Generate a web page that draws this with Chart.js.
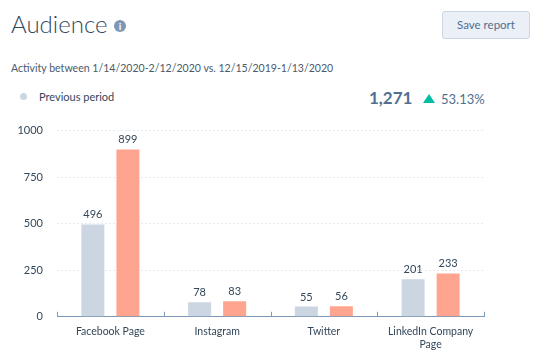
<!DOCTYPE html>
<html>
<head>
<meta charset="utf-8">
<script src="https://cdn.jsdelivr.net/npm/chart.js@4"></script>
<style>
html, body { margin: 0; padding: 0; background: #fff; }
body { width: 552px; height: 360px; position: relative; overflow: hidden; font-family: Lato, "Open Sans", sans-serif; color: #33475b; }
.abs { position: absolute; white-space: nowrap; }
#titulo { left: 11px; top: 7px; font-size: 24px; font-weight: 300; letter-spacing: 0; line-height: 34px; color: #33475b; }
#info { left: 114px; top: 20px; width: 12px; height: 12px; border-radius: 50%; background: #7c98b6; color: #fff; font-size: 10px; font-weight: 700; line-height: 12px; text-align: center; }
#guardar { left: 442px; top: 11px; width: 86px; height: 26px; border: 1px solid #cbd6e2; border-radius: 3px; background: #eaf0f6; color: #506e91; font-size: 11.5px; line-height: 26px; text-align: center; }
#actividad { left: 11px; top: 61px; font-size: 10.55px; line-height: 14px; color: #4a5a6a; }
#punto { left: 20px; top: 93px; width: 7px; height: 7px; border-radius: 50%; background: #cbd6e2; }
#previo { left: 39px; top: 90px; font-size: 11px; line-height: 14px; color: #33475b; }
#total { left: 369px; top: 88px; font-size: 17px; font-weight: 700; line-height: 20px; color: #516f90; }
#flecha { left: 423px; top: 94px; width: 0; height: 0; border-left: 6px solid transparent; border-right: 6px solid transparent; border-bottom: 9px solid #00bda5; }
#cambio { left: 441px; top: 90px; font-size: 13px; line-height: 18px; color: #516f90; }
#grafica { position: absolute; left: 0; top: 110px; }
</style>
</head>
<body>
<div class="abs" id="titulo">Audience</div>
<div class="abs" id="info">i</div>
<div class="abs" id="guardar">Save report</div>
<div class="abs" id="actividad">Activity between 1/14/2020-2/12/2020 vs. 12/15/2019-1/13/2020</div>
<div class="abs" id="punto"></div>
<div class="abs" id="previo">Previous period</div>
<div class="abs" id="total">1,271</div>
<div class="abs" id="flecha"></div>
<div class="abs" id="cambio">53.13%</div>
<canvas id="grafica" width="552" height="246"></canvas>
<script>
var categorias = [["Facebook Page"], ["Instagram"], ["Twitter"], ["LinkedIn Company", "Page"]];
var periodoAnterior = [496, 78, 55, 201];
var periodoActual = [899, 83, 56, 233];
var marcasY = [0, 250, 500, 750, 1000];

// pone el valor encima de cada barra
var etiquetas = {
    id: 'etiquetas',
    afterDatasetsDraw: function(chart){
        var ctx = chart.ctx;
        ctx.save();
        ctx.font = '11px Lato';
        ctx.fillStyle = '#33475b';
        ctx.textAlign = 'center';
        ctx.textBaseline = 'bottom';
        chart.data.datasets.forEach(function(ds, d){
            chart.getDatasetMeta(d).data.forEach(function(barra, i){
                ctx.fillText(ds.data[i], barra.x, barra.y - 4);
            });
        });
        ctx.restore();
    }
};

// rayitas que separan las categorias sobre el eje
var separadores = {
    id: 'separadores',
    afterDatasetsDraw: function(chart){
        var ctx = chart.ctx;
        var area = chart.chartArea;
        var ancho = area.width / categorias.length;
        ctx.save();
        ctx.strokeStyle = '#7c98b6';
        ctx.lineWidth = 1;
        for (var i = 0; i <= categorias.length; i++){
            var x = Math.round(area.left + ancho * i) + 0.5;
            ctx.beginPath();
            ctx.moveTo(x, area.bottom);
            ctx.lineTo(x, area.bottom - 5);
            ctx.stroke();
        }
        ctx.restore();
    }
};

var grafica = new Chart(document.getElementById('grafica').getContext('2d'), {
    type: 'bar',
    data: {
        labels: categorias,
        datasets: [
            { label: 'Previous period', data: periodoAnterior, backgroundColor: '#cbd6e2' },
            { label: 'Current period', data: periodoActual, backgroundColor: '#ffa58f' }
        ]
    },
    options: {
        responsive: false,
        animation: false,
        layout: { padding: { left: 0, right: 68, top: 10, bottom: 4 } },
        datasets: { bar: { categoryPercentage: 0.656, barPercentage: 0.657 } },
        plugins: { legend: { display: false }, tooltip: { enabled: false } },
        scales: {
            x: {
                grid: { display: false },
                border: { color: '#7c98b6', width: 1 },
                ticks: { color: '#33475b', font: { family: 'Lato', size: 10.5 }, maxRotation: 0, padding: 1 }
            },
            y: {
                min: 0,
                max: 1000,
                afterBuildTicks: function(eje){ eje.ticks = marcasY.map(function(v){ return { value: v }; }); },
                afterFit: function(eje){ eje.width = 57; },
                grid: { color: '#e5ebf2', drawTicks: false },
                border: { display: false, dash: [2, 2] },
                ticks: { color: '#33475b', font: { family: 'Lato', size: 11 }, padding: 14, callback: function(v){ return String(v); } }
            }
        }
    },
    plugins: [etiquetas, separadores]
});
</script>
</body>
</html>
